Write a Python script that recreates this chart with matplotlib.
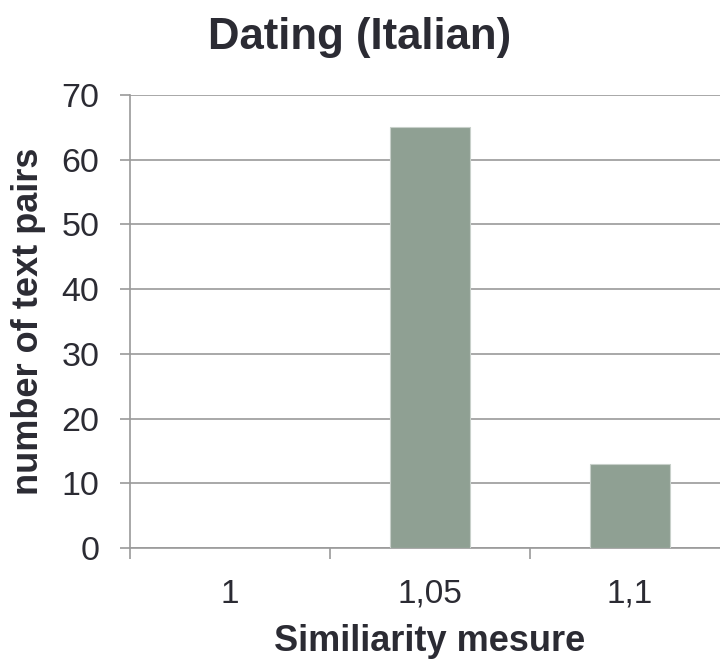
import matplotlib
matplotlib.use('Agg')
from matplotlib import pyplot as plt

# Значения гистограммы
categories = ['1', '1,05', '1,1']
counts = [0, 65, 13]
y_ticks = [0, 10, 20, 30, 40, 50, 60, 70]

plt.rcParams['font.family'] = ['Liberation Sans', 'DejaVu Sans']
text_color = '#2b2b33'
grid_color = '#9a9a9a'

fig = plt.figure(figsize=(7.2, 6.6), dpi=100)
ax = fig.add_axes([130 / 720, 112 / 660, 600 / 720, 453 / 660])

positions = list(range(len(categories)))
ax.bar(positions, counts, width=0.4, color='#8fa093', edgecolor='#c8d0ca',
       linewidth=0.8, zorder=3)

ax.set_xlim(-0.5, len(categories) - 0.5)
ax.set_ylim(0, 70)

# Сетка и оси
ax.set_yticks(y_ticks)
ax.yaxis.grid(True, color=grid_color, linewidth=1.2, zorder=0)
for side in ['top', 'right']:
    ax.spines[side].set_visible(False)
for side in ['left', 'bottom']:
    ax.spines[side].set_color(grid_color)
    ax.spines[side].set_linewidth(1.2)

# Подписи категорий по центру, засечки на границах
ax.set_xticks([p - 0.5 for p in positions] + [len(categories) - 0.5])
ax.set_xticklabels([])
ax.set_xticks(positions, minor=True)
ax.set_xticklabels(categories, minor=True)
ax.tick_params(axis='x', which='major', length=8, width=1.2, color=grid_color)
ax.tick_params(axis='x', which='minor', length=0, pad=22,
               labelsize=24, labelcolor=text_color)
ax.tick_params(axis='y', length=7, width=1.2, color=grid_color, pad=15,
               labelsize=24.5, labelcolor=text_color)

ax.set_xlabel('Similiarity mesure', fontsize=26, fontweight='bold',
              color=text_color)
ax.xaxis.set_label_coords(0.5, -0.168)
ax.set_ylabel('number of text pairs', fontsize=26, fontweight='bold',
              color=text_color)
ax.yaxis.set_label_coords(-0.14, 0.5)

fig.text(0.5, 1 - 49 / 660, 'Dating (Italian)', ha='center', va='baseline',
         fontsize=31.5, fontweight='bold', color=text_color)

plt.savefig('out.png', dpi=100)
